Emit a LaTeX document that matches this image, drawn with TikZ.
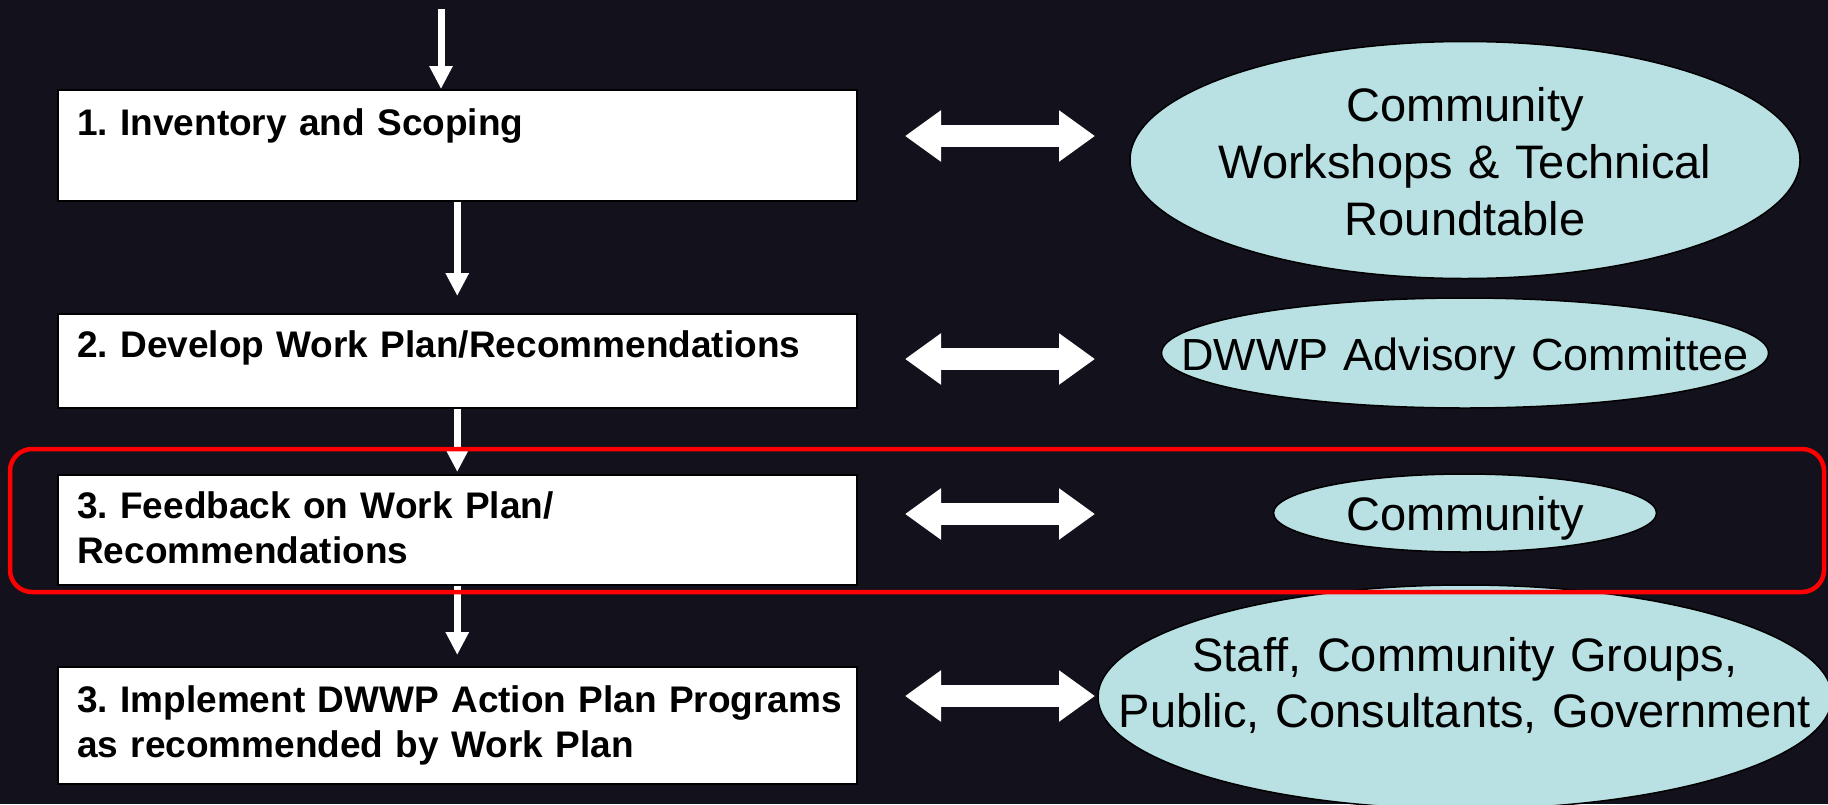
\documentclass[tikz,border=0pt]{standalone}
\usepackage{fontspec}
\setmainfont{Liberation Sans}
\usetikzlibrary{shapes.geometric,arrows.meta}
\definecolor{bgc}{RGB}{19,17,28}
\definecolor{ellc}{RGB}{185,224,227}
\definecolor{hlred}{RGB}{255,0,0}
\frenchspacing
\begin{document}
\begin{tikzpicture}[x=1pt,y=-1pt,
  stepbox/.style={draw=black, line width=1.5pt, fill=white, rectangle,
    minimum width=799pt, minimum height=#1, inner sep=0pt, anchor=north west},
  steptext/.style={anchor=base west, inner sep=0pt, text width=900pt, align=left,
    font=\frenchspacing\bfseries\fontsize{37}{45}\selectfont, text=black},
  ellbox/.style={ellipse, draw=black, line width=1.5pt, fill=ellc, inner sep=0pt},
  elltext/.style={anchor=base, inner sep=0pt, text width=800pt, align=center,
    font=\frenchspacing\fontsize{47}{57}\selectfont, text=black},
  varrow/.style={draw=white, line width=7pt, -{Triangle[width=22pt,length=23pt]}},
  darrow/.style={draw=white, line width=22pt,
    {Triangle[width=49pt,length=36pt]}-{Triangle[width=49pt,length=36pt]}},
  hlbox/.style={rectangle, draw=hlred, line width=4.5pt, rounded corners=22pt,
    inner sep=0pt, fill=none}
]
\useasboundingbox[fill=bgc] (0,0) rectangle (1828,804);

% step boxes
\node[stepbox=111pt] (b1) at (57,89) {};
\node[stepbox=94pt]  (b2) at (57,313) {};
\node[stepbox=110pt] (b3) at (57,474) {};
\node[stepbox=117pt] (b4) at (57,666) {};

\node[steptext] (t1) at (77,135) {1. Inventory and Scoping};
\node[steptext] (t2) at (77,357) {2. Develop Work Plan/Recommendations};
\node[steptext] (t3) at (77,518) {3. Feedback on Work Plan/\\Recommendations};
\node[steptext] (t4) at (77,712) {3. Implement DWWP Action Plan Programs\\as recommended by Work Plan};

% vertical arrows
\coordinate (start) at (441,9);
\draw[varrow] (start) -- (start |- b1.north);
\draw[varrow, shorten >=17pt] (b1.south) -- (b2.north);
\draw[varrow, shorten >=2pt] (b2.south) -- (b3.north);
\draw[varrow, shorten >=11pt] (b3.south) -- (b4.north);

% ellipses
\node[ellbox, minimum width=670pt, minimum height=237pt] (e1) at (1465,160) {};
\node[ellbox, minimum width=607pt, minimum height=110pt] (e2) at (1465,353) {};
\node[ellbox, minimum width=383pt, minimum height=78pt]  (e3) at (1465,513) {};
\node[ellbox, minimum width=734pt, minimum height=224pt] (e4) at (1465,697) {};

\node[elltext] (e1t) at (1465,121) {Community\\Workshops \& Technical\\Roundtable};
\node[elltext, font=\frenchspacing\fontsize{45}{55}\selectfont] (e2t) at (1465,370) {DWWP Advisory Committee};
\node[elltext] (e3t) at (1465,530) {Community};
\node[elltext, font=\frenchspacing\fontsize{47}{56}\selectfont] (e4t) at (1465,671) {Staff, Community Groups,\\Public, Consultants, Government};

% double arrows
\coordinate (d1l) at (905,136); \coordinate (d1r) at (1095,136);
\coordinate (d2l) at (905,359); \coordinate (d2r) at (1095,359);
\coordinate (d3l) at (905,514); \coordinate (d3r) at (1095,514);
\coordinate (d4l) at (905,696); \coordinate (d4r) at (1095,696);
\draw[darrow] (d1l) -- (d1r);
\draw[darrow] (d2l) -- (d2r);
\draw[darrow] (d3l) -- (d3r);
\draw[darrow] (d4l) -- (d4r);

% highlight
\node[hlbox, minimum width=1814pt, minimum height=143pt] (hl) at (917,520.5) {};
\end{tikzpicture}
\end{document}
